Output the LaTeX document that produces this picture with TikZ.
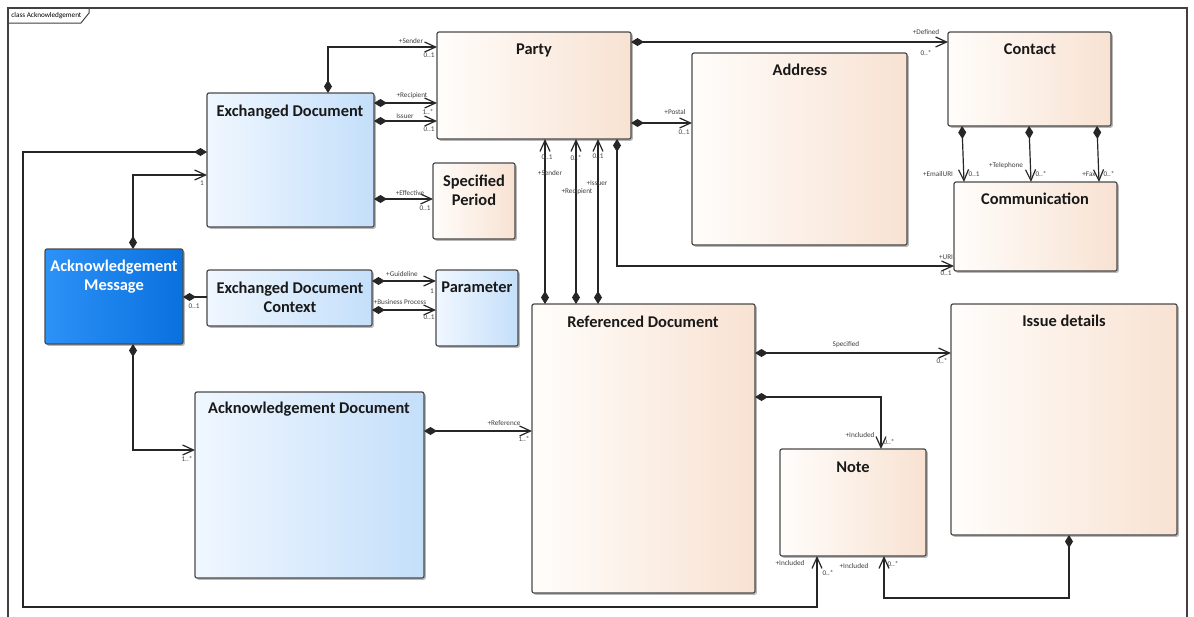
\documentclass[tikz,border=0pt]{standalone}
\usepackage{fontspec}
\setmainfont{Carlito}
\usetikzlibrary{arrows.meta}
\definecolor{blueL}{HTML}{F0F7FF}
\definecolor{blueR}{HTML}{C4DFFA}
\definecolor{peachL}{HTML}{FFFDFB}
\definecolor{peachR}{HTML}{F8E2D2}
\definecolor{ackL}{HTML}{2C92F7}
\definecolor{ackR}{HTML}{0A70DE}
\definecolor{bord}{HTML}{4A4A4A}
\newcommand\umlbox[6]{%
  \pgfmathsetmacro\bw{(#5-#3)*0.5}%
  \pgfmathsetmacro\bh{(#6-#4)*0.5}%
  \node[box,#2,minimum width=\bw pt,minimum height=\bh pt,anchor=north west] (#1) at (#3,#4) {};}
\tikzset{
  box/.style={draw=bord,line width=0.6pt,rounded corners=1pt,inner sep=0pt,outer sep=0pt,
    preaction={fill=black!28,transform canvas={shift={(0.9pt,-0.9pt)}}}},
  bluebox/.style={left color=blueL,right color=blueR},
  peachbox/.style={left color=peachL,right color=peachR},
  ackbox/.style={left color=ackL,right color=ackR},
  ttl/.style={font=\bfseries\fontsize{8.2}{9.6}\selectfont,text=black!90,align=center,inner sep=0pt},
  lbl/.style={font=\fontsize{3.6}{4}\selectfont,text=black!75,inner sep=0pt},
  assoc/.style={line width=0.6pt,draw=black!85,{Diamond[length=6.5pt,width=4pt]}-{Straight Barb[length=5.5pt,width=5pt,line width=0.6pt]}},
  compo/.style={line width=0.6pt,draw=black!85,{Diamond[length=6.5pt,width=4pt]}-},
}
\begin{document}
\begin{tikzpicture}[x=0.5pt,y=-0.5pt]
\useasboundingbox (0,0) rectangle (1194,616);
\clip (0,0) rectangle (1194,616);
\fill[white] (0,0) rectangle (1194,616);
% frame
\draw[draw=black!75,line width=0.6pt] (8,8) rectangle (1187,640);
\draw[draw=black!75,line width=0.5pt] (8,23) -- (81,23) -- (89,13) -- (89,8);
\node[lbl,text=black,anchor=west] (frametag) at (11,16) {class Acknowledgement};
% boxes
\umlbox{exdoc}{bluebox}{207}{93}{374}{227}
\umlbox{party}{peachbox}{437}{32}{631}{139}
\umlbox{address}{peachbox}{692}{53}{907}{245}
\umlbox{contact}{peachbox}{948}{32}{1111}{126}
\umlbox{comm}{peachbox}{954}{182}{1117}{271}
\umlbox{period}{peachbox}{433}{163}{515}{239}
\umlbox{ackmsg}{ackbox}{45}{249}{183}{344}
\umlbox{exctx}{bluebox}{207}{270}{372}{326}
\umlbox{param}{bluebox}{436}{270}{518}{346}
\umlbox{refdoc}{peachbox}{532}{304}{755}{593}
\umlbox{ackdoc}{bluebox}{195}{392}{424}{578}
\umlbox{issue}{peachbox}{951}{304}{1177}{535}
\umlbox{note}{peachbox}{780}{449}{926}{556}
% titles
\node[ttl] (exdocT) at (290,112) {Exchanged Document};
\node[ttl] (partyT) at (534,50) {Party};
\node[ttl] (addressT) at (800,70) {Address};
\node[ttl] (contactT) at (1030,49) {Contact};
\node[ttl] (commT) at (1035,199) {Communication};
\node[ttl] (periodT) at (474,190) {Specified\\Period};
\node[ttl,text=white] (ackmsgT) at (114,277) {Acknowledgement\\Message};
\node[ttl] (exctxT) at (290,297) {Exchanged Document\\Context};
\node[ttl] (paramT) at (477,287) {Parameter};
\node[ttl] (refdocT) at (643,322) {Referenced Document};
\node[ttl] (ackdocT) at (309,409) {Acknowledgement Document};
\node[ttl] (issueT) at (1064,321) {Issue details};
\node[ttl] (noteT) at (853,467) {Note};
% connectors
\draw[assoc] (exdoc.north -| 328,0) |- (party.west |- 0,47);
\draw[assoc] (exdoc.east |- 0,103) -- (party.west |- 0,103);
\draw[assoc] (exdoc.east |- 0,121) -- (party.west |- 0,121);
\draw[assoc] (exdoc.east |- 0,199) -- (period.west |- 0,199);
\draw[assoc] (ackmsg.north -| 133,0) |- (exdoc.west |- 0,175);
\draw[compo] (ackmsg.east |- 0,297) -- (exctx.west |- 0,297);
\draw[assoc] (exctx.east |- 0,281) -- (param.west |- 0,281);
\draw[assoc] (exctx.east |- 0,310) -- (param.west |- 0,310);
\draw[assoc] (ackmsg.south -| 133,0) |- (ackdoc.west |- 0,450);
\draw[assoc] (ackdoc.east |- 0,431) -- (refdoc.west |- 0,431);
\draw[assoc] (refdoc.north -| 545,0) -- (party.south -| 545,0);
\draw[assoc] (refdoc.north -| 576,0) -- (party.south -| 576,0);
\draw[assoc] (refdoc.north -| 598,0) -- (party.south -| 598,0);
\draw[assoc] (party.east |- 0,123) -- (address.west |- 0,123);
\draw[assoc] (party.east |- 0,42) -- (contact.west |- 0,42);
\draw[assoc] (party.south -| 617,0) |- (comm.west |- 0,266);
\draw[assoc] (contact.south -| 962,0) -- (comm.north -| 964,0);
\draw[assoc] (contact.south -| 1029,0) -- (comm.north -| 1031,0);
\draw[assoc] (contact.south -| 1097,0) -- (comm.north -| 1099,0);
\draw[assoc] (refdoc.east |- 0,353) -- (issue.west |- 0,353);
\draw[assoc] (refdoc.east |- 0,397) -| (note.north -| 881,0);
\draw[assoc] (issue.south -| 1069,0) -- (1069,598) -| (note.south -| 884,0);
\draw[assoc] (exdoc.west |- 0,152) -- (23,152) -- (23,607) -| (note.south -| 817,0);
% labels
\node[lbl] (l1) at (411,41) {+Sender};
\node[lbl] (l2) at (429,55) {0..1};
\node[lbl] (l3) at (412,96) {+Recipient};
\node[lbl] (l4) at (428,112) {1..*};
\node[lbl] (l5) at (405,116) {Issuer};
\node[lbl] (l6) at (429,129) {0..1};
\node[lbl] (l7) at (410,193) {+Effective};
\node[lbl] (l8) at (425,208) {0..1};
\node[lbl] (l9) at (202,183) {1};
\node[lbl] (l10) at (194,306) {0..1};
\node[lbl] (l11) at (402,274) {+Guideline};
\node[lbl] (l12) at (432,291) {1};
\node[lbl] (l13) at (400,302) {+Business Process};
\node[lbl] (l14) at (429,317) {0..1};
\node[lbl] (l15) at (187,459) {1..*};
\node[lbl] (l16) at (504,423) {+Reference};
\node[lbl] (l17) at (524,439) {1..*};
\node[lbl] (l18) at (547,157) {0..1};
\node[lbl] (l19) at (550,173) {+Sender};
\node[lbl] (l20) at (576,158) {0..*};
\node[lbl] (l21) at (577,192) {+Recipient};
\node[lbl] (l22) at (598,156) {0..1};
\node[lbl] (l23) at (597,183) {+Issuer};
\node[lbl] (l24) at (675,112) {+Postal};
\node[lbl] (l25) at (684,132) {0..1};
\node[lbl] (l26) at (926,32) {+Defined};
\node[lbl] (l27) at (926,53) {0..*};
\node[lbl] (l28) at (946,257) {+URI};
\node[lbl] (l29) at (946,273) {0..1};
\node[lbl] (l30) at (938,174) {+EmailURI};
\node[lbl] (l31) at (974,174) {0..1};
\node[lbl] (l32) at (1006,166) {+Telephone};
\node[lbl] (l33) at (1041,174) {0..*};
\node[lbl] (l34) at (1089,174) {+Fax};
\node[lbl] (l35) at (1109,174) {0..*};
\node[lbl] (l36) at (846,345) {Specified};
\node[lbl] (l37) at (942,361) {0..*};
\node[lbl] (l38) at (860,435) {+Included};
\node[lbl] (l39) at (889,442) {0..*};
\node[lbl] (l40) at (854,566) {+Included};
\node[lbl] (l41) at (893,564) {0..*};
\node[lbl] (l42) at (790,563) {+Included};
\node[lbl] (l43) at (828,573) {0..*};
\end{tikzpicture}
\end{document}
